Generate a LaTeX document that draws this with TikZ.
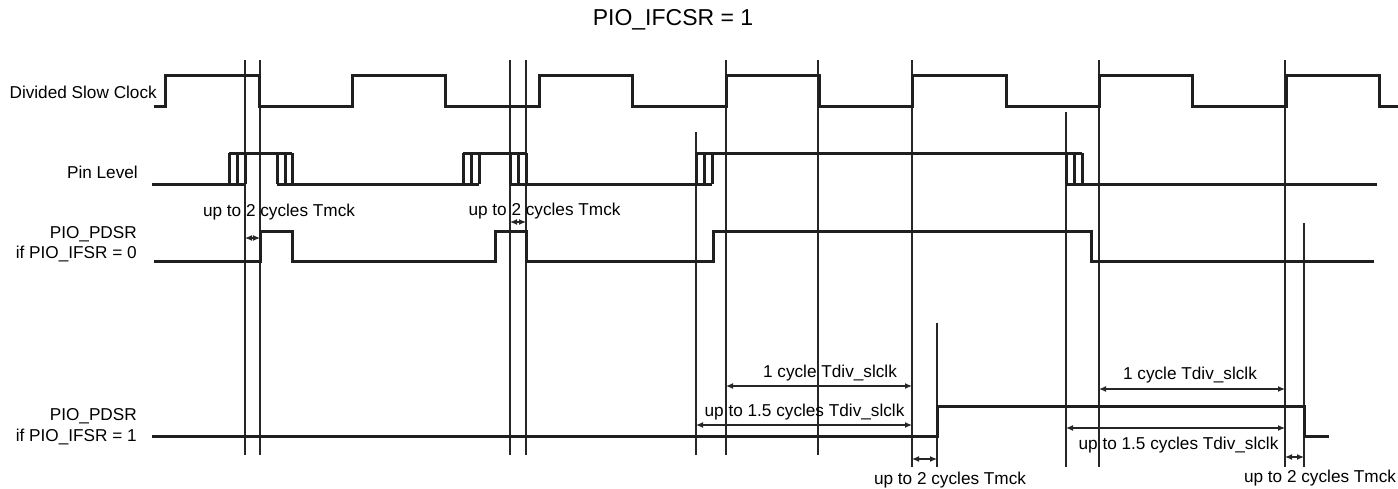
\documentclass[tikz,border=0pt]{standalone}
\usepackage{fontspec}
\setmainfont{Liberation Sans}
\usetikzlibrary{arrows.meta}

\begin{document}
\begin{tikzpicture}[x=1pt, y=-1pt, >={Latex[length=7pt,width=6pt]}, line cap=butt, line join=miter,
	font=\fontsize{17.2pt}{20.5pt}\selectfont,
	signal/.style={line width=3pt, black!88},
	guide/.style={line width=1.2pt, black!85},
	dimline/.style={<->, line width=1.2pt, black!85},
	lbl/.style={anchor=east, inner sep=0pt, align=right},
	dimtxt/.style={inner sep=0pt}]
	
	\useasboundingbox (0,0) rectangle (1398,488);
	
	%========================
	% Title and signal names
	%========================
	\node[inner sep=0pt, font=\fontsize{23pt}{27pt}\selectfont] (title) at (673,20) {PIO\_IFCSR = 1};
	\node[lbl] (clklbl) at (157,92) {Divided Slow Clock};
	\node[lbl] (pinlbl) at (138,172) {Pin Level};
	\node[lbl] (pdsrzlbl) at (137,244) {PIO\_PDSR\\if PIO\_IFSR = 0};
	\node[lbl] (pdsrolbl) at (137,426.5) {PIO\_PDSR\\if PIO\_IFSR = 1};
	
	%========================
	% Thin timing guides
	%========================
	\foreach \x/\ya/\yb in {245/60/455, 260/60/455, 510/60/455, 526/60/455,
		696/132/455, 726/60/455, 818/60/455, 912/60/467, 937/323/467,
		1066/112/467, 1099/60/467, 1285/60/467, 1304/223/467}
	\draw[guide] (\x,\ya) -- (\x,\yb);
	
	%========================
	% Divided slow clock
	%========================
	\draw[signal] (154,106) -- (165,106) -- (165,75) -- (259,75) -- (259,106)
	-- (352,106) -- (352,75) -- (445,75) -- (445,106) -- (539,106) -- (539,75)
	-- (632,75) -- (632,106) -- (726,106) -- (726,75) -- (819,75) -- (819,106)
	-- (912,106) -- (912,75) -- (1006,75) -- (1006,106) -- (1099,106) -- (1099,75)
	-- (1192,75) -- (1192,106) -- (1286,106) -- (1286,75) -- (1379,75) -- (1379,106)
	-- (1398,106);
	
	%========================
	% Pin level (with bouncing edges)
	%========================
	% low and high parts
	\draw[signal] (152,184) -- (245,184);
	\draw[signal] (277,184) -- (479,184);
	\draw[signal] (510,184) -- (712,184);
	\draw[signal] (1066,184) -- (1377,184);
	\draw[signal] (229,153) -- (292,153);
	\draw[signal] (463,153) -- (526,153);
	\draw[signal] (696,153) -- (1082,153);
	% edges
	\foreach \x in {229,237,245, 277,285,292, 463,471,479, 510,518,526,
		696,704,712, 1066,1074,1082}
	\draw[signal] (\x,153) -- (\x,184);
	
	%========================
	% PIO_PDSR, filter off
	%========================
	\draw[signal] (154,261) -- (260,261) -- (260,231) -- (292,231) -- (292,261)
	-- (495,261) -- (495,231) -- (526,231) -- (526,261) -- (713,261) -- (713,231)
	-- (1091,231) -- (1091,261) -- (1374,261);
	
	%========================
	% PIO_PDSR, filter on
	%========================
	\draw[signal] (152,436) -- (937,436) -- (937,406) -- (1304,406) -- (1304,436) -- (1329,436);
	
	%========================
	% Delay arrows
	%========================
	\foreach \n/\xa/\xb/\y in {da/245/260/238, db/510/526/222,
		dc/726/912/386, dd/696/912/425, de/912/937/459,
		df/1099/1285/389, dg/1066/1285/428, dh/1285/1304/457}
	{
		\coordinate (\n l) at (\xa,\y);
		\coordinate (\n r) at (\xb,\y);
		\draw[dimline] (\n l) -- (\n r);
	}
	\node[dimtxt] (tmcka) at (279,212) {up to 2 cycles Tmck};
	\node[dimtxt] (tmckb) at (544.5,211) {up to 2 cycles Tmck};
	\node[dimtxt] (slcka) at (830,373) {1 cycle Tdiv\_slclk};
	\node[dimtxt] (slckb) at (804.5,412) {up to 1.5 cycles Tdiv\_slclk};
	\node[dimtxt] (tmckc) at (950,480) {up to 2 cycles Tmck};
	\node[dimtxt] (slckc) at (1190,375) {1 cycle Tdiv\_slclk};
	\node[dimtxt] (slckd) at (1178.5,445) {up to 1.5 cycles Tdiv\_slclk};
	\node[dimtxt] (tmckd) at (1320,478) {up to 2 cycles Tmck};
	
\end{tikzpicture}
\end{document}
